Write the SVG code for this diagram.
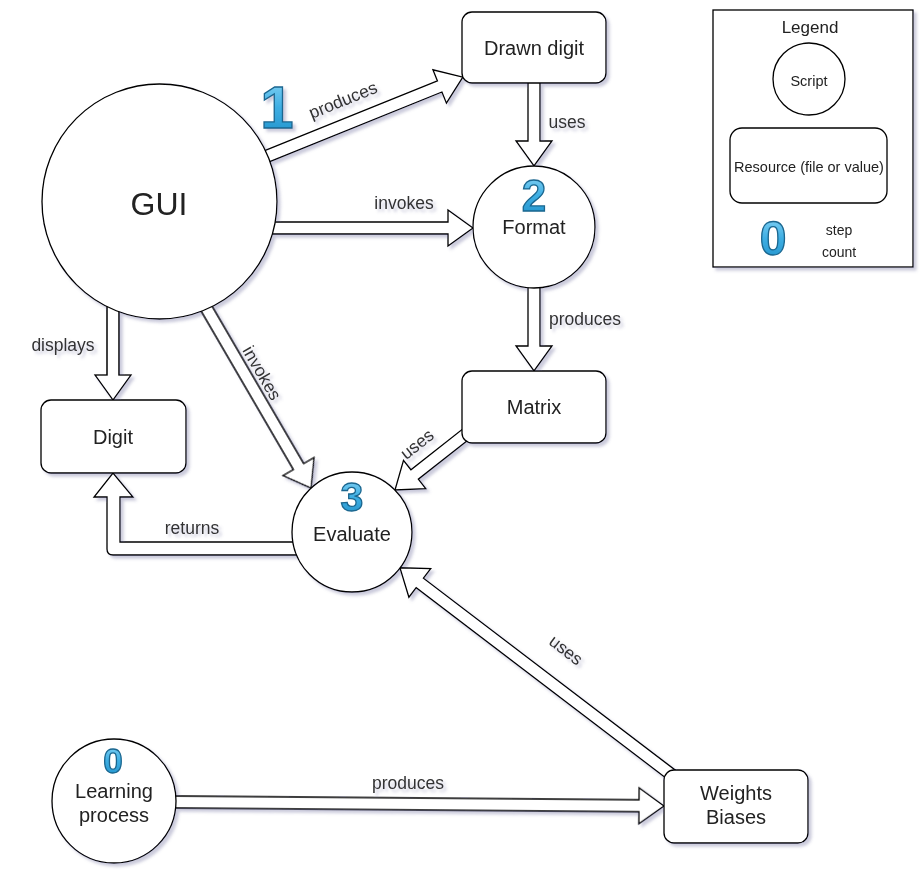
<svg xmlns="http://www.w3.org/2000/svg" width="923" height="882" viewBox="0 0 923 882">
<defs>
<filter id="sh" x="-10%" y="-10%" width="130%" height="130%">
<feGaussianBlur in="SourceAlpha" stdDeviation="1.6"/>
<feOffset dx="3" dy="3" result="b"/>
<feFlood flood-color="#6a6a9a" flood-opacity="0.35"/>
<feComposite in2="b" operator="in"/>
<feMerge><feMergeNode/><feMergeNode in="SourceGraphic"/></feMerge>
</filter>
<linearGradient id="dg" x1="0" y1="0" x2="0" y2="1">
<stop offset="0" stop-color="#8fd8f7"/>
<stop offset="0.5" stop-color="#3eaee3"/>
<stop offset="1" stop-color="#1e8fc8"/>
</linearGradient>
<style>
.arr{fill:#fff;stroke:#000;stroke-width:1.3;stroke-linejoin:miter}
.nd{fill:#fff;stroke:#000;stroke-width:1.3}
.t{font-family:"Liberation Sans",Arial,sans-serif;font-size:20px;fill:#222;text-anchor:middle}
.lb{font-family:"Liberation Sans",Arial,sans-serif;font-size:17.5px;fill:#333;text-anchor:middle}
.num{font-family:"Liberation Sans",Arial,sans-serif;font-weight:bold;fill:url(#dg);stroke:#1a668f;stroke-width:1.3;text-anchor:middle}
</style>
</defs>
<rect width="923" height="882" fill="#fff"/>
<g filter="url(#sh)">
<g id="connectors">
<polygon class="arr" transform="translate(270,155) rotate(-22)" points="-6,-6 183,-6 183,-18 208,0 183,18 183,6 -6,6"/>
<polygon class="arr" transform="translate(277,228)" points="-6,-6 171,-6 171,-18 196,0 171,18 171,6 -6,6"/>
<polygon class="arr" transform="translate(534,83) rotate(90)" points="-6,-6 58,-6 58,-18 83,0 58,18 58,6 -6,6"/>
<polygon class="arr" transform="translate(534,288) rotate(90)" points="-6,-6 58,-6 58,-18 83,0 58,18 58,6 -6,6"/>
<polygon class="arr" transform="translate(113,305) rotate(90)" points="-6,-6 70,-6 70,-18 95,0 70,18 70,6 -6,6"/>
<polygon class="arr" transform="translate(208,311) rotate(59.8)" points="-6,-6 180,-6 180,-18 205,0 180,18 180,6 -6,6"/>
<polygon class="arr" transform="translate(461,438) rotate(141.8)" points="-6,-6 59,-6 59,-18 84,0 59,18 59,6 -6,6"/>
<polygon class="arr" transform="translate(668,772) rotate(-142.7)" points="-6,-6 312,-6 312,-18 337,0 312,18 312,6 -6,6"/>
<polygon class="arr" transform="translate(176,802) rotate(0.47)" points="-6,-6 463,-6 463,-18 488,0 463,18 463,6 -6,6"/>
<path class="arr" d="M300,542 L120,542 L120,497 L133,497 L113,473 L94,497 L107,497 L107,549 Q107,555 113,555 L300,555 Z"/>
<text class="lb" transform="translate(343,100) rotate(-22)" x="0" y="6">produces</text>
<text class="lb" x="404" y="209">invokes</text>
<text class="lb" x="567" y="128">uses</text>
<text class="lb" x="585" y="325">produces</text>
<text class="lb" x="63" y="351">displays</text>
<text class="lb" transform="translate(262,373) rotate(59.8)" x="0" y="6">invokes</text>
<text class="lb" transform="translate(417,444) rotate(-38.2)" x="0" y="6">uses</text>
<text class="lb" x="192" y="534">returns</text>
<text class="lb" transform="translate(566,650) rotate(37.3)" x="0" y="6">uses</text>
<text class="lb" x="408" y="789">produces</text>
<text class="num" x="277" y="128" style="font-size:60px">1</text>
</g>
<g id="gui">
<circle class="nd" cx="159.5" cy="201.5" r="117.5"/>
<text class="t" x="159" y="215" style="font-size:32px">GUI</text>
</g>
<g id="drawn-digit">
<rect class="nd" x="462" y="12" width="144" height="71" rx="10"/>
<text class="t" x="534" y="55">Drawn digit</text>
</g>
<g id="format">
<circle class="nd" cx="534" cy="227" r="61"/>
<text class="num" x="534" y="211" style="font-size:44px">2</text>
<text class="t" x="534" y="234">Format</text>
</g>
<g id="matrix">
<rect class="nd" x="462" y="371" width="144" height="72" rx="10"/>
<text class="t" x="534" y="414">Matrix</text>
</g>
<g id="digit">
<rect class="nd" x="41" y="400" width="145" height="73" rx="10"/>
<text class="t" x="113" y="444">Digit</text>
</g>
<g id="evaluate">
<circle class="nd" cx="352" cy="532" r="60"/>
<text class="num" x="352" y="511" style="font-size:41px">3</text>
<text class="t" x="352" y="541">Evaluate</text>
</g>
<g id="learning">
<circle class="nd" cx="114" cy="801" r="62"/>
<text class="num" x="113" y="773" style="font-size:35px">0</text>
<text class="t" x="114" y="798">Learning</text>
<text class="t" x="114" y="822">process</text>
</g>
<g id="weights">
<rect class="nd" x="664" y="770" width="144" height="73" rx="10"/>
<text class="t" x="736" y="800">Weights</text>
<text class="t" x="736" y="824">Biases</text>
</g>
<g id="legend">
<rect class="nd" x="713" y="10" width="200" height="257"/>
<text class="t" x="810" y="33" style="font-size:17px">Legend</text>
<circle class="nd" cx="809" cy="79" r="36"/>
<text class="t" x="809" y="86" style="font-size:14.5px">Script</text>
<rect class="nd" x="730" y="128" width="157" height="75" rx="12"/>
<text class="t" x="809" y="172" style="font-size:14.5px">Resource (file or value)</text>
<text class="num" x="773" y="255" style="font-size:48px">0</text>
<text class="t" x="839" y="235" style="font-size:14px">step</text>
<text class="t" x="839" y="257" style="font-size:14px">count</text>
</g>
</g>
</svg>
